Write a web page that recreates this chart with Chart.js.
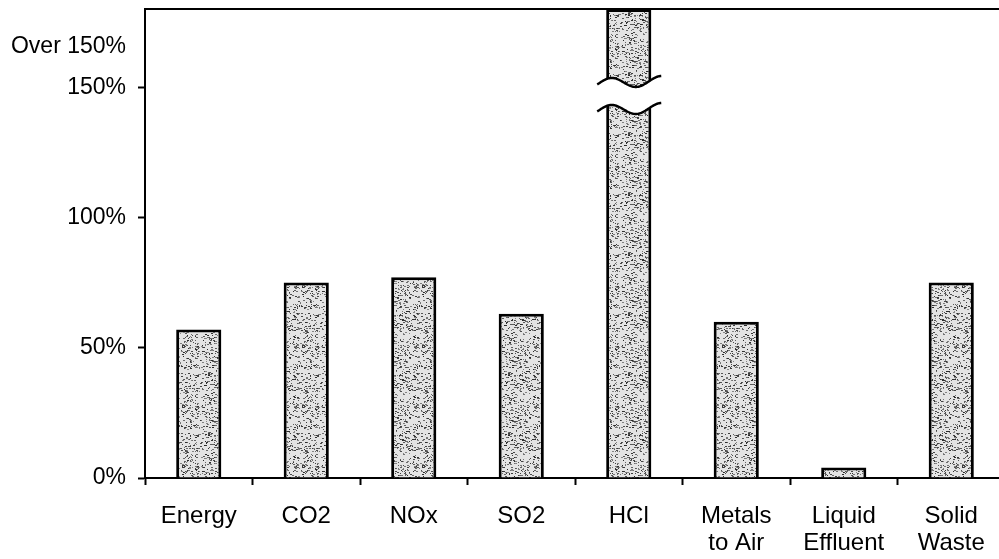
<!DOCTYPE html>
<html><head><meta charset="utf-8">
<script src="https://cdn.jsdelivr.net/npm/chart.js@4/dist/chart.umd.min.js"></script>
<style>html,body{margin:0;padding:0;overflow:hidden;background:#fff}#wrap{width:1010px;height:559px}</style>
</head><body><div id="wrap"><canvas id="c" width="1010" height="559"></canvas></div>
<script>
// ---- data ----
const categories = [["Energy"], ["CO2"], ["NOx"], ["SO2"], ["HCl"], ["Metals", "to Air"], ["Liquid", "Effluent"], ["Solid", "Waste"]];
const values = [57, 75, 77, 63, 180, 60, 4, 75]; // HCl is "over 150%": drawn to the top of the broken axis
const tickValues = [0, 50, 100, 150, 165.5];
const tickLabels = ["0%", "50%", "100%", "150%", "Over 150%"];
const axisMax = 180;
const brokenIndex = 4;   // HCl bar carries the axis break
const breakValue = 146.7;

// ---- stipple fill pattern (deterministic) ----
function makePattern() {
  const s = 60, pc = document.createElement('canvas');
  pc.width = s; pc.height = s;
  const g = pc.getContext('2d');
  g.fillStyle = '#e4e4e4'; g.fillRect(0, 0, s, s);
  let seed = 12345;
  const rnd = () => { seed = (seed * 1103515245 + 12345) & 0x7fffffff; return seed / 0x7fffffff; };
  for (let i = 0; i < 620; i++) {
    const x = Math.floor(rnd() * s), y = Math.floor(rnd() * s);
    const shade = 40 + Math.floor(rnd() * 100);
    g.fillStyle = `rgb(${shade},${shade},${shade})`;
    g.fillRect(x, y, rnd() < 0.45 ? 2 : 1, 1);
  }
  return g.createPattern(pc, 'repeat');
}
const fill = makePattern();

const framePlugin = {
  id: 'frame',
  afterDraw(chart) {
    const { ctx, chartArea: a } = chart;
    ctx.save();
    ctx.strokeStyle = '#000'; ctx.lineWidth = 2;
    ctx.beginPath(); ctx.moveTo(a.left - 1, a.top); ctx.lineTo(a.right, a.top); ctx.stroke();
    ctx.restore();
  }
};

const breakPlugin = {
  id: 'axisBreak',
  afterDatasetsDraw(chart) {
    const bar = chart.getDatasetMeta(0).data[brokenIndex];
    if (!bar) return;
    const ctx = chart.ctx, y = chart.scales.y;
    const cx = bar.x, w = bar.width, yc = y.getPixelForValue(breakValue);
    const wave = (x, off) => yc + off - 5 * Math.cos(2 * Math.PI * (x - (cx - 17.5)) / 50) - 0.04 * (x - cx);
    const x0 = cx - 31.5, x1 = cx + 32.5;
    ctx.save();
    ctx.beginPath();
    for (let x = cx - w / 2 - 2; x <= cx + w / 2 + 2; x++) ctx.lineTo(x, wave(x, -13.5));
    for (let x = cx + w / 2 + 2; x >= cx - w / 2 - 2; x--) ctx.lineTo(x, wave(x, 13.5));
    ctx.closePath();
    ctx.fillStyle = '#fff'; ctx.fill();
    ctx.strokeStyle = '#000'; ctx.lineWidth = 2.4;
    [-13.5, 13.5].forEach(off => {
      ctx.beginPath();
      for (let x = x0; x <= x1; x++) ctx.lineTo(x, wave(x, off));
      ctx.stroke();
    });
    ctx.restore();
  }
};

new Chart(document.getElementById('c'), {
  type: 'bar',
  data: {
    labels: categories,
    datasets: [{
      data: values,
      backgroundColor: fill,
      borderColor: '#000',
      borderWidth: 3,
      borderSkipped: 'start',
      barPercentage: 0.42,
      categoryPercentage: 1.0
    }]
  },
  plugins: [framePlugin, breakPlugin],
  options: {
    responsive: false,
    animation: false,
    devicePixelRatio: 1,
    layout: { padding: { top: 9, right: 5, left: 0, bottom: 0 } },
    plugins: { legend: { display: false }, tooltip: { enabled: false } },
    scales: {
      x: {
        grid: { offset: true, drawOnChartArea: false, tickLength: 7, tickColor: '#000', tickWidth: 2 },
        border: { display: true, color: '#000', width: 2 },
        ticks: { color: '#000', font: { family: 'Liberation Sans', size: 24, lineHeight: 1.12 }, padding: 18, maxRotation: 0, autoSkip: false },
        afterFit(s) { s.height = 81; s.paddingLeft = 0; s.paddingRight = 0; }
      },
      y: {
        min: 0, max: axisMax,
        afterBuildTicks(s) { s.ticks = tickValues.map(v => ({ value: v })); },
        grid: {
          drawOnChartArea: false, tickLength: 7, tickWidth: 2,
          tickColor: c => (c.tick && c.tick.value === tickValues[4]) ? 'rgba(0,0,0,0)' : '#000'
        },
        border: { display: true, color: '#000', width: 2 },
        ticks: {
          color: '#000', font: { family: 'Liberation Sans', size: 23 }, padding: 12,
          callback: (v) => tickLabels[tickValues.indexOf(v)]
        },
        afterFit(s) { s.width = 145; s.paddingTop = 0; s.paddingBottom = 0; }
      }
    }
  }
});
</script></body></html>
